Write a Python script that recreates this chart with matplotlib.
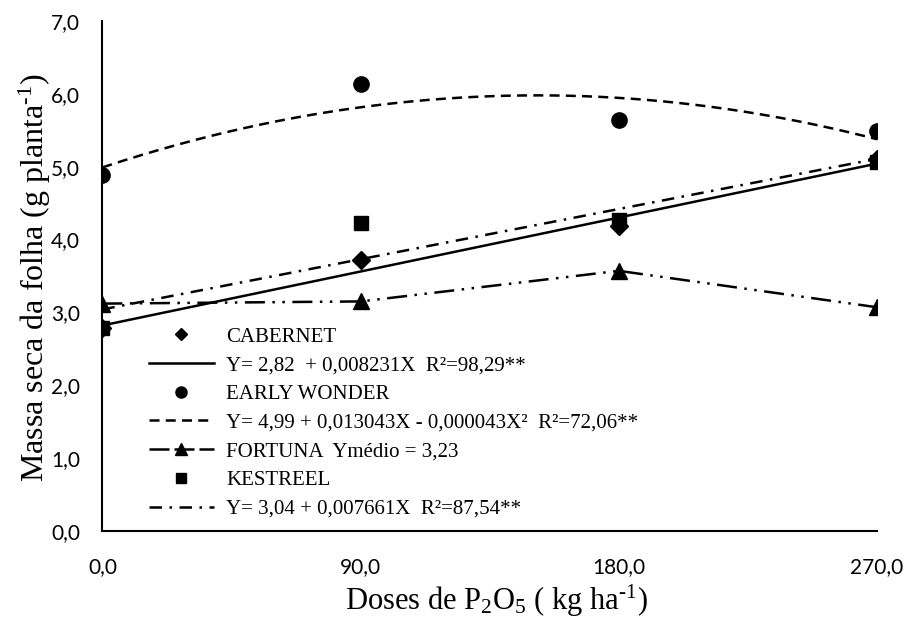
import numpy as np
import matplotlib
matplotlib.use('Agg')
import matplotlib.pyplot as plt
from matplotlib.lines import Line2D

# doses de P2O5 (kg/ha)
doses = [0, 90, 180, 270]

# massa seca da folha (g/planta)
cabernet = [2.78, 3.72, 4.18, 5.10]
early_wonder = [4.88, 6.13, 5.64, 5.49]
fortuna = [3.12, 3.15, 3.57, 3.07]
kestreel = [2.78, 4.23, 4.27, 5.06]

# coeficientes das regressoes (grau maior primeiro)
coef_cabernet = [0.008231, 2.82]
coef_early = [-0.000043, 0.013043, 4.99]
coef_kestreel = [0.007661, 3.04]

lab_cab = 'Y= 2,82  + 0,008231X  R²=98,29**'
lab_early = 'Y= 4,99 + 0,013043X - 0,000043X²  R²=72,06**'
lab_fort = 'FORTUNA  Ymédio = 3,23'
lab_kest = 'Y= 3,04 + 0,007661X  R²=87,54**'

serif = 'Liberation Serif'
sans = 'Lato'

fig = plt.figure(figsize=(9.06, 6.18), dpi=100)
ax = fig.add_axes([0.113, 0.141, 0.855, 0.825])

xs = np.linspace(0, 270, 200)
lw = 1.8
ls_early = (0, (4, 2.5))
ls_fort = (0, (8, 3, 1, 3, 1, 3))
ls_kest = (0, (5, 3, 1, 3))

ax.plot(xs, np.polyval(coef_cabernet, xs), color='black', lw=lw, zorder=2)
ax.plot(xs, np.polyval(coef_early, xs), color='black', lw=lw, ls=ls_early, zorder=2)
ax.plot(xs, np.polyval(coef_kestreel, xs), color='black', lw=lw, ls=ls_kest, zorder=2)
ax.plot(doses, fortuna, color='black', lw=lw, ls=ls_fort, zorder=2)

ax.plot(doses, cabernet, 'D', color='black', ms=9, ls='none', zorder=3)
ax.plot(doses, early_wonder, 'o', color='black', ms=11, ls='none', zorder=3)
ax.plot(doses, fortuna, '^', color='black', ms=11, ls='none', zorder=3)
ax.plot(doses, kestreel, 's', color='black', ms=10, ls='none', zorder=4)

ax.set_xlim(0, 270)
ax.set_ylim(0, 7)
ax.set_xticks(doses)
ax.set_xticklabels(['0,0', '90,0', '180,0', '270,0'])
ax.set_yticks(np.arange(0, 8, 1))
ax.set_yticklabels(['%d,0' % v for v in range(8)])
ax.tick_params(length=0, labelsize=15)
ax.tick_params(axis='y', pad=16)
ax.tick_params(axis='x', pad=19)
for t in ax.get_xticklabels() + ax.get_yticklabels():
    t.set_fontfamily(sans)
ax.spines['top'].set_visible(False)
ax.spines['right'].set_visible(False)
ax.spines['left'].set_linewidth(1.5)
ax.spines['bottom'].set_linewidth(1.5)

fig.text(0.038, 0.55, 'Massa seca da folha (g planta$\\mathregular{^{\u20101}}$)',
         fontsize=23, family=serif, rotation=90, ha='center', va='center')
fig.text(0.548, 0.028, 'Doses de P$\\mathregular{_2}$O$\\mathregular{_5}$ ( kg ha$\\mathregular{^{\u20101}}$)',
         fontsize=22, family=serif, ha='center', va='center')

handles = [
    Line2D([], [], marker='D', color='black', ls='none', ms=6),
    Line2D([], [], color='black', lw=lw),
    Line2D([], [], marker='o', color='black', ls='none', ms=8),
    Line2D([], [], color='black', lw=lw, ls=ls_early),
    Line2D([], [], marker='^', color='black', lw=lw, ls=(0, (8, 2)), ms=8),
    Line2D([], [], marker='s', color='black', ls='none', ms=7),
    Line2D([], [], color='black', lw=lw, ls=ls_kest),
]
labels = ['CABERNET', lab_cab, 'EARLY WONDER', lab_early, lab_fort, 'KESTREEL', lab_kest]
ax.legend(handles, labels, loc='upper left', bbox_to_anchor=(0.06, 0.4),
          frameon=False, handlelength=3.12, handletextpad=0.58, labelspacing=0.44,
          borderpad=0, borderaxespad=0, prop={'family': serif, 'size': 15})

fig.savefig('out.png', dpi=100)
